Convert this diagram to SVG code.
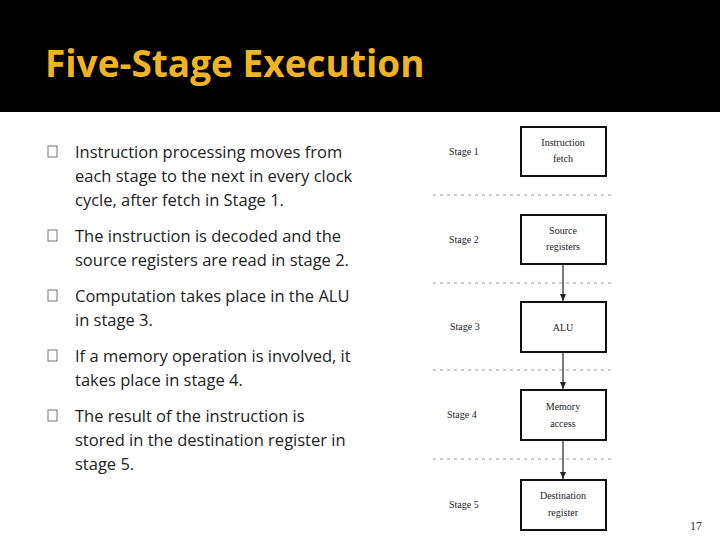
<svg xmlns="http://www.w3.org/2000/svg" width="720" height="540" viewBox="0 0 720 540">
<style>
.t{font-family:"Open Sans","Liberation Sans",sans-serif;font-size:16.5px;fill:#222}
.s{font-family:"Liberation Serif",serif;font-size:10px;fill:#222}
.b{fill:#fff;stroke:#111;stroke-width:2}
.d{stroke:#999;stroke-dasharray:3,4;stroke-width:1}
.c{stroke:#222;stroke-width:1.2;marker-end:url(#a)}
.bl{fill:none;stroke:#777;stroke-width:1}
</style>
<defs><marker id="a" markerWidth="8" markerHeight="8" refX="7" refY="4" orient="auto" markerUnits="userSpaceOnUse"><path d="M0,1 L7,4 L0,7z" fill="#222"/></marker></defs>
<rect width="720" height="540" fill="#fff"/>
<rect width="720" height="112" fill="#000"/>
<text x="45" y="77" font-family="Open Sans,Liberation Sans,sans-serif" font-weight="bold" font-size="37" fill="#f0b323">Five-Stage Execution</text>
<g id="bullets">
<rect class="bl" x="48" y="146" width="9" height="11"/>
<rect class="bl" x="48" y="230" width="9" height="11"/>
<rect class="bl" x="48" y="290" width="9" height="11"/>
<rect class="bl" x="48" y="350" width="9" height="11"/>
<rect class="bl" x="48" y="410" width="9" height="11"/>
<text class="t" x="75" y="158">Instruction processing moves from</text>
<text class="t" x="75" y="182">each stage to the next in every clock</text>
<text class="t" x="75" y="206">cycle, after fetch in Stage 1.</text>
<text class="t" x="75" y="242">The instruction is decoded and the</text>
<text class="t" x="75" y="266">source registers are read in stage 2.</text>
<text class="t" x="75" y="302">Computation takes place in the ALU</text>
<text class="t" x="75" y="326">in stage 3.</text>
<text class="t" x="75" y="362">If a memory operation is involved, it</text>
<text class="t" x="75" y="386">takes place in stage 4.</text>
<text class="t" x="75" y="422">The result of the instruction is</text>
<text class="t" x="75" y="446">stored in the destination register in</text>
<text class="t" x="75" y="470">stage 5.</text>
</g>
<g id="dividers">
<line class="d" x1="433" y1="195" x2="615" y2="195"/>
<line class="d" x1="433" y1="283" x2="615" y2="283"/>
<line class="d" x1="433" y1="370" x2="615" y2="370"/>
<line class="d" x1="433" y1="459" x2="615" y2="459"/>
</g>
<g id="labels">
<text class="s" x="449" y="155">Stage 1</text>
<text class="s" x="449" y="243">Stage 2</text>
<text class="s" x="450" y="330">Stage 3</text>
<text class="s" x="447" y="418">Stage 4</text>
<text class="s" x="449" y="508">Stage 5</text>
</g>
<g id="n1"><rect class="b" x="521" y="127" width="85" height="49"/><text class="s" x="563" y="146" text-anchor="middle">Instruction</text><text class="s" x="563" y="162" text-anchor="middle">fetch</text></g>
<g id="n2"><rect class="b" x="521" y="215" width="85" height="49"/><text class="s" x="563" y="234" text-anchor="middle">Source</text><text class="s" x="563" y="250" text-anchor="middle">registers</text></g>
<g id="n3"><rect class="b" x="521" y="302" width="85" height="50"/><text class="s" x="563" y="331" text-anchor="middle">ALU</text></g>
<g id="n4"><rect class="b" x="521" y="390" width="85" height="50"/><text class="s" x="563" y="410" text-anchor="middle">Memory</text><text class="s" x="563" y="427" text-anchor="middle">access</text></g>
<g id="n5"><rect class="b" x="521" y="480" width="85" height="50"/><text class="s" x="563" y="499" text-anchor="middle">Destination</text><text class="s" x="563" y="516" text-anchor="middle">register</text></g>
<g id="connectors">
<line class="c" x1="563" y1="264" x2="563" y2="301"/>
<line class="c" x1="563" y1="352" x2="563" y2="389"/>
<line class="c" x1="563" y1="440" x2="563" y2="479"/>
</g>
<text x="690" y="530" font-family="Liberation Serif,serif" font-size="12" fill="#333">17</text>
</svg>
